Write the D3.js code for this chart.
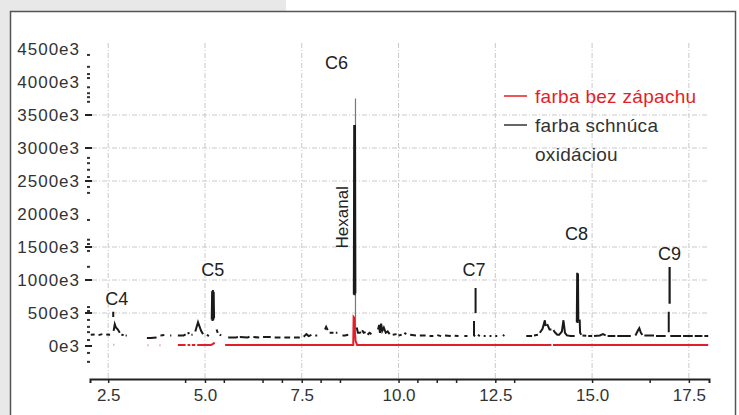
<!DOCTYPE html>
<html lang="sk">
<head>
<meta charset="utf-8">
<title>Chromatogram</title>
<script src="https://d3js.org/d3.v7.min.js"></script>
<style>
  html, body { margin: 0; padding: 0; background: #fff; }
  svg { display: block; font-family: "Liberation Sans", Arial, sans-serif; }
</style>
</head>
<body>
<div id="chart"></div>
<script>
// retention time (min) and intensity (e3) - null = gap in the trace
const oxidRt = [
  2.05, 2.15, null, 2.25, 2.35, null, 2.45, 2.55, null,
  2.63, 2.63, null,
  2.64, 2.67, 2.70, 2.75, 2.80, null, 2.84, 2.90, null, 2.95, 2.98, null,
  3.50, 3.60, 3.75, null, 3.85, 3.95, null, 4.10, 4.13, null,
  4.30, 4.45, 4.50, null, 4.55, 4.60, null, 4.65, 4.68, null,
  4.75, 4.82, 4.90, 4.95, null, 5.05, 5.10, null,
  5.175, 5.185, 5.195, 5.205, 5.215, 5.225, 5.235, null,
  5.30, 5.33, null, 5.38, 5.42, null,
  5.60, 5.80, 5.85, null, 5.90, 6.10, 6.15, null, 6.25, 6.40, null, 6.50, 6.70, null,
  6.80, 6.95, null, 7.05, 7.20, null, 7.30, 7.45, null,
  7.55, 7.62, 7.68, 7.75, null, 7.85, 7.90, null,
  8.10, 8.13, 8.17, null, 8.22, 8.32, null, 8.38, 8.42, null, 8.55, 8.62, 8.70, null,
  8.845, 8.855, 8.865, 8.875, 8.885, null,
  8.92, 8.95, 9.00, 9.03, null, 9.06, 9.10, 9.15, null, 9.20, 9.25, 9.30, null,
  9.47, 9.50, 9.52, 9.55, 9.58, 9.62, 9.67, 9.72, 9.77, null,
  9.85, 9.95, null, 10.00, 10.08, null, 10.15, 10.20, null, 10.30, 10.45, null,
  10.55, 10.70, null, 10.80, 10.90, null, 11.00, 11.10, null, 11.20, 11.35, null,
  11.45, 11.55, null, 11.70, 11.78, null,
  11.95, 11.95, 11.98, null, 11.99, 11.99, null,
  12.05, 12.10, null, 12.20, 12.25, null, 12.35, 12.40, null, 12.50, 12.55, null, 12.70, 12.73, null,
  13.30, 13.45, null, 13.50, 13.60, null,
  13.65, 13.72, 13.78, 13.80, null, 13.84, 13.90, 13.95, null,
  14.00, 14.05, 14.10, 14.15, 14.22, 14.26, 14.30, 14.35, 14.45, 14.55, null,
  14.605, 14.615, 14.625, 14.635, 14.645, null,
  14.68, 14.69, 14.72, null, 14.75, 14.85, null, 14.90, 15.00, null,
  15.05, 15.20, 15.28, 15.35, null, 15.40, 15.60, null, 15.65, 16.00, null,
  16.12, 16.18, 16.22, 16.26, 16.30, null, 16.35, 16.50, 16.60, null, 16.65, 16.90, null,
  16.98, 16.98, null, 17.00, 17.00, 17.005, 17.005, null,
  17.02, 17.30, null, 17.35, 17.60, null, 17.65, 17.85, null, 17.90, 18.00
];
const oxidVal = [
  170, 175, null, 165, 180, null, 175, 170, null,
  440, 520, null,
  230, 330, 280, 250, 200, null, 170, 165, null, 160, 160, null,
  120, 120, 130, null, 160, 165, null, 160, 160, null,
  160, 160, 175, null, 190, 200, null, 170, 170, null,
  220, 360, 230, 180, null, 170, 150, null,
  400, 830, 380, 850, 390, 820, 420, null,
  250, 200, null, 170, 160, null,
  130, 130, 135, null, 135, 130, 140, null, 135, 130, null, 135, 135, null,
  130, 130, null, 130, 130, null, 130, 130, null,
  140, 180, 150, 170, null, 160, 160, null,
  250, 290, 240, null, 200, 200, null, 200, 200, null, 160, 160, 170, null,
  780, 3350, 770, 3350, 800, null,
  280, 200, 200, 210, null, 240, 200, 210, null, 170, 200, 180, null,
  250, 320, 200, 340, 230, 280, 200, 220, 180, null,
  170, 180, null, 160, 170, null, 200, 180, null, 170, 160, null,
  160, 160, null, 150, 150, null, 165, 150, null, 160, 150, null,
  155, 150, null, 150, 150, null,
  380, 160, 150, null, 500, 880, null,
  170, 150, null, 150, 150, null, 150, 150, null, 150, 150, null, 150, 170, null,
  150, 150, null, 160, 170, null,
  200, 260, 390, 300, null, 330, 250, 250, null,
  240, 200, 170, 170, 220, 390, 200, 160, 150, 150, null,
  360, 1110, 350, 1100, 380, null,
  400, 200, 170, null, 160, 155, null, 150, 150, null,
  150, 160, 180, 160, null, 150, 150, null, 150, 150, null,
  160, 230, 270, 200, 170, null, 160, 160, 160, null, 150, 150, null,
  210, 520, null, 640, 1180, 1180, 640, null,
  150, 150, null, 150, 150, null, 150, 150, null, 150, 150
];

// thin apex of the hexanal peak (drawn lighter)
const apexRt = [8.888, 8.888];
const apexVal = [3750, 250];

const cleanRt = [
  2.64, 2.655, null, 3.52, 3.535, null, 3.83, 3.845, null,
  4.30, 4.50, null, 4.55, 4.62, null, 4.66, 4.75, null, 4.80, 5.15, 5.20, 5.25, null,
  5.52, 8.83, 8.84, 8.855, 8.87, 8.89, 8.93, 13.95, null, 13.99, 18.00
];
const cleanVal = [
  20, 20, null, 10, 10, null, 10, 10, null,
  15, 15, null, 15, 15, null, 15, 15, null, 15, 15, 30, 50, null,
  15, 15, 440, 430, 250, 80, 15, 15, null, 15, 15
];

const seriesNames = ["farba bez zápachu", "farba schnúca", "oxidáciou"];
const seriesColors = ["#e41e26", "#1a1a1a"];

const xTicks = [2.5, 5.0, 7.5, 10.0, 12.5, 15.0, 17.5];
const xMinorTicks = [4.5, 5.5, 6.5, 7.0, 8.0, 8.5, 10.5, 11.0, 11.5, 13.0, 16.5];
const yTicks = [0, 500, 1000, 1500, 2000, 2500, 3000, 3500, 4000, 4500];
const yMajorMarks = [0, 500, 1000, 1500, 2500, 3000, 3500];
const yMinorMarks = [4410, 4230, 4120, 4060, 3920, 3830, 3770, 3700, 2850, 2770, 2670,
  2560, 2410, 2320, 1910, 1610, 1545, 1440, 1200, 590, 530, 395, 290, 210, 90, -105, -240];
const yGrid = [500, 1000, 1500, 2500, 3000, 3500];

// peak labels: [text, rt, intensity e3]
const peakLabels = [
  ["C4", 2.72, 720], ["C5", 5.2, 1150], ["C6", 8.4, 4300],
  ["C7", 11.95, 1150], ["C8", 14.6, 1700], ["C9", 17.0, 1400]
];

const width = 739, height = 415;

const svg = d3.select("#chart").append("svg")
  .attr("width", width)
  .attr("height", height);

// page background pieces
svg.append("rect").attr("x", 0).attr("y", 0).attr("width", 286).attr("height", 12).attr("fill", "#e8e8e8");
svg.append("rect").attr("x", 0).attr("y", 0).attr("width", 10).attr("height", height).attr("fill", "#e8e8e8");
svg.append("rect")
  .attr("x", 10.5).attr("y", 11.5)
  .attr("width", 725).attr("height", 430)
  .attr("fill", "#fff")
  .attr("stroke", "#555")
  .attr("stroke-width", 1.5);

const x = d3.scaleLinear().domain([2.03, 18.02]).range([90, 709]);
const y = d3.scaleLinear().domain([-500, 4500]).range([379, 49]);

// grid
const grid = svg.append("g")
  .attr("stroke", "#c9c9c9")
  .attr("stroke-width", 1)
  .attr("stroke-dasharray", "5,2,1,2");
grid.selectAll("line.v").data(xTicks).enter().append("line")
  .attr("x1", d => x(d)).attr("x2", d => x(d))
  .attr("y1", 43).attr("y2", 378);
grid.selectAll("line.h").data(yGrid).enter().append("line")
  .attr("x1", 92).attr("x2", 709)
  .attr("y1", d => y(d)).attr("y2", d => y(d));

// x axis
const xAxis = svg.append("g")
  .attr("transform", "translate(0,379)")
  .call(d3.axisBottom(x).tickValues(xTicks).tickSize(4).tickSizeOuter(4).tickFormat(d3.format(".1f")));
xAxis.select(".domain").attr("stroke", "#222").attr("stroke-width", 2);
xAxis.selectAll(".tick line").attr("stroke", "#222").attr("stroke-width", 1.5);
xAxis.selectAll(".tick text")
  .attr("y", 10)
  .attr("font-size", 17)
  .attr("font-family", "Liberation Sans, Arial, sans-serif")
  .attr("fill", "#333");
xAxis.selectAll("line.minor").data(xMinorTicks).enter().append("line")
  .attr("x1", d => x(d)).attr("x2", d => x(d))
  .attr("y1", 0).attr("y2", 4)
  .attr("stroke", "#222").attr("stroke-width", 1.5);

// y axis: tick labels plus small tick marks, no domain line
const yAxis = svg.append("g");
yAxis.selectAll("text").data(yTicks).enter().append("text")
  .attr("x", 80)
  .attr("y", d => y(d))
  .attr("dy", "0.35em")
  .attr("text-anchor", "end")
  .attr("font-size", 17)
  .attr("letter-spacing", 1)
  .attr("fill", "#333")
  .text(d => d + "e3");
yAxis.selectAll("line.major").data(yMajorMarks).enter().append("line")
  .attr("x1", 85).attr("x2", 92)
  .attr("y1", d => y(d)).attr("y2", d => y(d))
  .attr("stroke", "#222").attr("stroke-width", 2);
yAxis.selectAll("line.minor").data(yMinorMarks).enter().append("line")
  .attr("x1", 87).attr("x2", 90)
  .attr("y1", d => y(d)).attr("y2", d => y(d))
  .attr("stroke", "#333").attr("stroke-width", 2);

// traces
const line = d3.line()
  .defined(d => d[0] !== null && d[1] !== null)
  .x(d => x(d[0]))
  .y(d => y(d[1]));

const cleanPts = cleanRt.map((t, i) => [t, cleanVal[i]]);
const oxidPts = oxidRt.map((t, i) => [t, oxidVal[i]]);
const apexPts = apexRt.map((t, i) => [t, apexVal[i]]);

svg.append("path")
  .datum(apexPts)
  .attr("fill", "none")
  .attr("stroke", "#777")
  .attr("stroke-width", 1.2)
  .attr("d", line);

svg.append("path")
  .datum(oxidPts)
  .attr("fill", "none")
  .attr("stroke", seriesColors[1])
  .attr("stroke-width", 2)
  .attr("d", line);

svg.append("path")
  .datum(cleanPts)
  .attr("fill", "none")
  .attr("stroke", seriesColors[0])
  .attr("stroke-width", 2)
  .attr("d", line);

// peak labels
svg.selectAll("text.peak").data(peakLabels).enter().append("text")
  .attr("class", "peak")
  .attr("x", d => x(d[1]))
  .attr("y", d => y(d[2]))
  .attr("dy", "0.35em")
  .attr("text-anchor", "middle")
  .attr("font-size", 18)
  .attr("fill", "#222")
  .text(d => d[0]);

svg.append("text")
  .attr("transform", `translate(${x(8.8) - 10},${y(1950)}) rotate(-90)`)
  .attr("text-anchor", "middle")
  .attr("dy", "0.35em")
  .attr("font-size", 17)
  .attr("fill", "#222")
  .text("Hexanal");

// legend
const legend = svg.append("g").attr("transform", "translate(504,96)");
legend.append("line").attr("x1", 0).attr("x2", 23).attr("y1", 0).attr("y2", 0)
  .attr("stroke", seriesColors[0]).attr("stroke-width", 1.5);
legend.append("text").attr("x", 31).attr("y", 0).attr("dy", "0.35em")
  .attr("font-size", 19).attr("letter-spacing", 0.3)
  .attr("fill", seriesColors[0]).text(seriesNames[0]);
legend.append("line").attr("x1", 0).attr("x2", 23).attr("y1", 29).attr("y2", 29)
  .attr("stroke", "#333").attr("stroke-width", 1.5);
legend.append("text").attr("x", 31).attr("y", 29).attr("dy", "0.35em")
  .attr("font-size", 19).attr("letter-spacing", 0.3)
  .attr("fill", "#333").text(seriesNames[1]);
legend.append("text").attr("x", 31).attr("y", 58).attr("dy", "0.35em")
  .attr("font-size", 19).attr("letter-spacing", 0.3)
  .attr("fill", "#333").text(seriesNames[2]);
</script>
</body>
</html>
